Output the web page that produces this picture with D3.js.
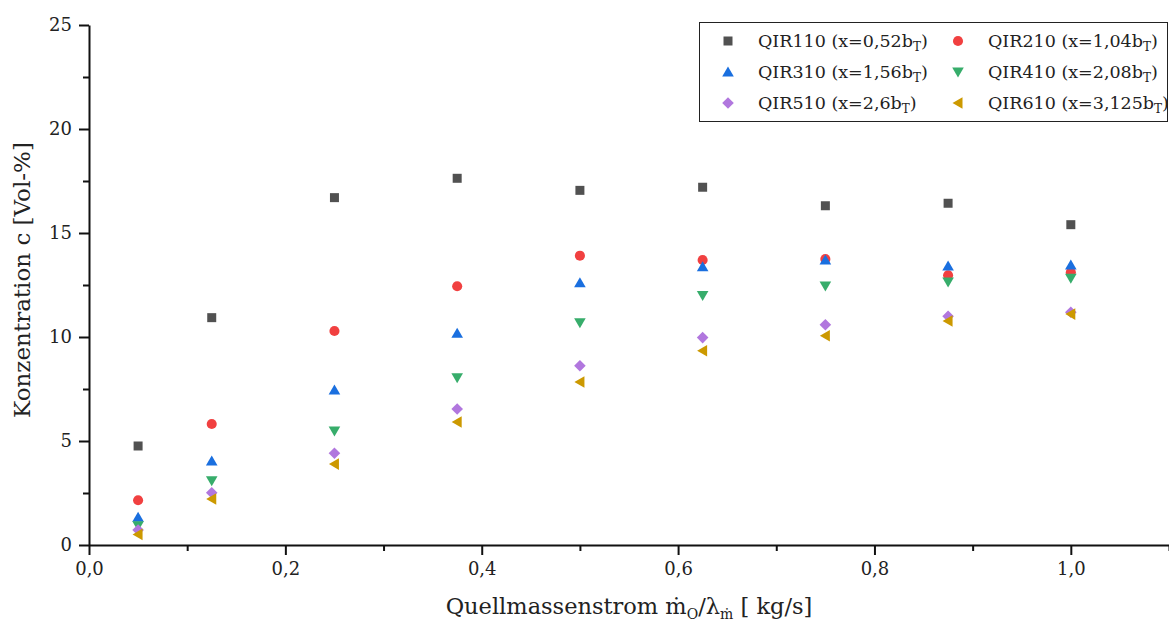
<!DOCTYPE html>
<html>
<head>
<meta charset="utf-8">
<script src="https://cdn.jsdelivr.net/npm/d3@7"></script>
<style>
  body { margin: 0; background: #fff; }
  svg text { font-family: "DejaVu Serif", serif; fill: #222; }
</style>
</head>
<body>
<div id="chart"></div>
<script>
// data
var xValues = [0.05, 0.125, 0.25, 0.375, 0.5, 0.625, 0.75, 0.875, 1.0];
var qir110 = [4.76, 10.93, 16.7, 17.63, 17.05, 17.2, 16.31, 16.43, 15.4];
var qir210 = [2.15, 5.82, 10.29, 12.44, 13.91, 13.7, 13.75, 12.97, 13.11];
var qir310 = [1.33, 4.04, 7.45, 10.18, 12.61, 13.38, 13.7, 13.41, 13.46];
var qir410 = [0.93, 3.09, 5.48, 8.04, 10.69, 11.99, 12.45, 12.64, 12.82];
var qir510 = [0.72, 2.51, 4.41, 6.54, 8.62, 9.97, 10.59, 11.0, 11.19];
var qir610 = [0.51, 2.21, 3.89, 5.91, 7.84, 9.34, 10.06, 10.77, 11.1];
var seriesNames = ['QIR110', 'QIR210', 'QIR310', 'QIR410', 'QIR510', 'QIR610'];
var seriesPos = ['0,52', '1,04', '1,56', '2,08', '2,6', '3,125'];
var xTicks = [0, 0.2, 0.4, 0.6, 0.8, 1.0];
var yTicks = [0, 5, 10, 15, 20, 25];

var app = {};
app.w = 1169;
app.h = 627;
app.colors = ['#515151', '#F14040', '#1A6FDF', '#37AD6B', '#B177DE', '#CC9900'];
app.values = [qir110, qir210, qir310, qir410, qir510, qir610];

// marker paths centred on 0,0
app.marker = function(i){
  switch(i){
    case 0: return 'M-4.5,-4.5H4.5V4.5H-4.5Z';
    case 1: return d3.symbol().type(d3.symbolCircle).size(80)();
    case 2: return 'M0,-5.5L5.8,4.5H-5.8Z';
    case 3: return 'M0,5.5L5.8,-4.5H-5.8Z';
    case 4: return 'M0,-5.8L5.8,0L0,5.8L-5.8,0Z';
    case 5: return 'M-5.5,0L4.5,-5.8V5.8Z';
  }
};

var svg = d3.select('#chart').append('svg')
  .attr('width', app.w)
  .attr('height', app.h);

var x = d3.scaleLinear().domain([0, 1.1]).range([89, 1169]);
var y = d3.scaleLinear().domain([0, 25]).range([545, 25]);

var fmt = function(d){ return d3.format('.1f')(d).replace('.', ','); };

// x axis
svg.append('g')
  .attr('transform', 'translate(0,545)')
  .call(d3.axisBottom(x).tickValues(xTicks).tickFormat(fmt).tickSize(10).tickSizeOuter(0).tickPadding(7));
svg.append('g')
  .attr('transform', 'translate(0,545)')
  .call(d3.axisBottom(x).tickValues([0.1, 0.3, 0.5, 0.7, 0.9, 1.1]).tickFormat('').tickSize(6).tickSizeOuter(0))
  .select('.domain').remove();

// y axis
svg.append('g')
  .attr('transform', 'translate(89,0)')
  .call(d3.axisLeft(y).tickValues(yTicks).tickSize(10).tickSizeOuter(0).tickPadding(7));
svg.append('g')
  .attr('transform', 'translate(89,0)')
  .call(d3.axisLeft(y).tickValues([2.5, 7.5, 12.5, 17.5, 22.5]).tickFormat('').tickSize(6).tickSizeOuter(0))
  .select('.domain').remove();

svg.selectAll('.domain').attr('stroke', '#111').attr('stroke-width', 2);
svg.selectAll('.tick line').attr('stroke', '#111').attr('stroke-width', 2);
svg.selectAll('.tick text')
  .style('font-family', '"DejaVu Serif", serif')
  .style('font-size', '18px')
  .attr('fill', '#222');

// axis titles
svg.append('text')
  .attr('transform', 'translate(30,280) rotate(-90)')
  .attr('text-anchor', 'middle')
  .style('font-size', '23px')
  .text('Konzentration c [Vol-%]');

var xl = svg.append('text')
  .attr('x', 629)
  .attr('y', 614)
  .attr('text-anchor', 'middle')
  .style('font-size', '22.5px');
xl.append('tspan').text('Quellmassenstrom \u1E41');
xl.append('tspan').attr('dy', 5).style('font-size', '14px').text('O');
xl.append('tspan').attr('dy', -5).text('/\u03BB');
xl.append('tspan').attr('dy', 5).style('font-size', '14px').text('\u1E41');
xl.append('tspan').attr('dy', -5).text(' [ kg/s]');

// points
app.values.forEach(function(vals, i){
  svg.append('g').selectAll('path')
    .data(vals)
    .enter()
    .append('path')
    .attr('d', app.marker(i))
    .attr('fill', app.colors[i])
    .attr('transform', function(d, j){ return 'translate(' + x(xValues[j]) + ',' + y(d) + ')'; });
});

// legend
var lg = svg.append('g');
lg.append('rect')
  .attr('x', 699.5).attr('y', 22.5)
  .attr('width', 468).attr('height', 99)
  .attr('fill', '#fff')
  .attr('stroke', '#222')
  .attr('stroke-width', 1);
seriesNames.forEach(function(name, i){
  var col = i % 2, row = Math.floor(i / 2);
  var mx = col ? 958 : 728, my = 41 + row * 31;
  lg.append('path')
    .attr('d', app.marker(i))
    .attr('fill', app.colors[i])
    .attr('transform', 'translate(' + mx + ',' + my + ')');
  var t = lg.append('text')
    .attr('x', mx + 30)
    .attr('y', my + 6)
    .style('font-size', '17.5px');
  t.append('tspan').text(name + ' (x=' + seriesPos[i] + 'b');
  t.append('tspan').attr('dy', 4).style('font-size', '12px').text('T');
  t.append('tspan').attr('dy', -4).text(')');
});
</script>
</body>
</html>
